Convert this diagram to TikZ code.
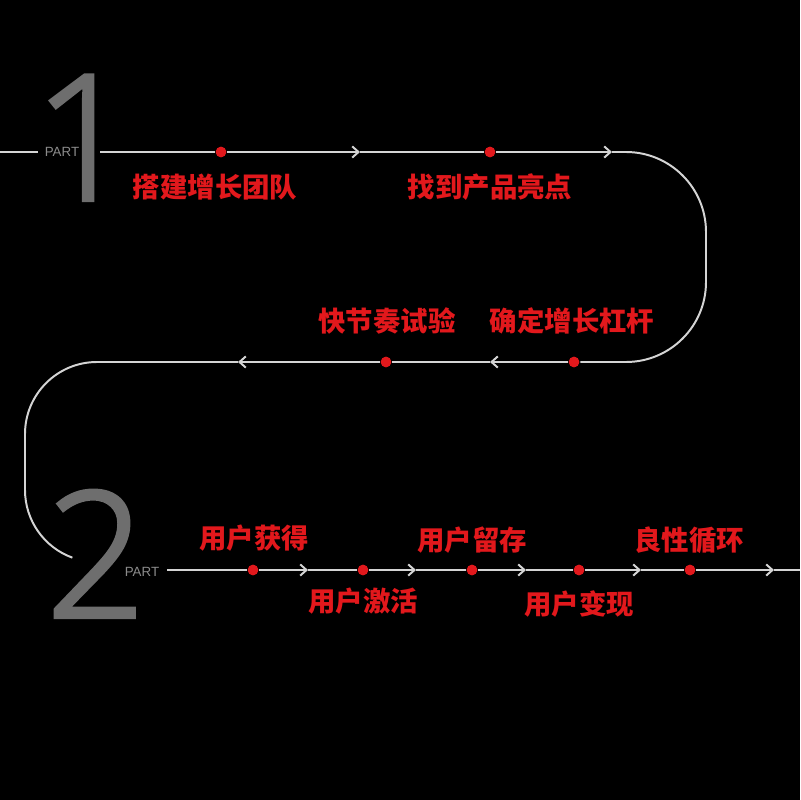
\documentclass[tikz,border=0pt]{standalone}
\usepackage{fontspec}
\setmainfont{Liberation Sans}
\newfontfamily\cjk{Noto Sans CJK SC}
\newfontfamily\digitfont{Open Sans Light}[AutoFakeBold=2.5]
\usetikzlibrary{arrows.meta, positioning}
\definecolor{cred}{HTML}{E2181C}
\definecolor{cline}{HTML}{D4D4D4}
\definecolor{cgrey}{HTML}{6E6E6E}
\tikzset{
  every picture/.style={line width=1.4pt},
  track/.style={draw=cline, line width=1.4pt},
  flow/.style={track, -{Straight Barb[length=4.5pt, width=8pt]}},
  dot/.style={circle, fill=cred, inner sep=0pt, minimum size=7.5pt},
  tag/.style={font=\cjk\bfseries\fontsize{19.5}{20}\selectfont, text=cred, inner sep=0pt},
  digit/.style={font=\digitfont\bfseries\fontsize{124}{124}\selectfont, text=cgrey, inner sep=0pt, anchor=base},
  part/.style={font=\fontsize{9.5}{10}\selectfont, text=cgrey!80!white, inner sep=0pt},
}

\begin{document}
\begin{tikzpicture}[x=0.025cm, y=-0.025cm]
  \fill[black] (0,0) rectangle (800,800);
  \useasboundingbox (0,0) rectangle (800,800);
  % part 1
  \node[digit] (one) at (84,200) {1};
  \node[part] (p1) at (62,152) {PART};
  \coordinate (s0) at (0,152);
  \coordinate (e0) at (38,152);
  \coordinate (s1) at (100,152);
  \node[dot] (d1) at (221,152) {};
  \coordinate (a1) at (360,152);
  \node[dot] (d2) at (490,152) {};
  \coordinate (a2) at (612,152);
  \coordinate (r1) at (706,152);
  \coordinate (r2) at (706,362);
  \node[dot] (d3) at (574,362) {};
  \coordinate (a3) at (490,362);
  \node[dot] (d4) at (386,362) {};
  \coordinate (a4) at (238,362);
  \coordinate (l1) at (97,362);
  \coordinate (l2) at (25,490);
  \node[tag] (t1) at (215,187) {搭建增长团队};
  \node[tag] (t2) at (490,187) {找到产品亮点};
  \node[tag] (t3) at (572,321) {确定增长杠杆};
  \node[tag] (t4) at (387,321) {快节奏试验};
  % part 2
  \node[digit] (two) at (96,617) {2};
  \node[part] (p2) at (142,572) {PART};
  \coordinate (s2) at (167,570);
  \node[dot] (d5) at (253,570) {};
  \coordinate (a5) at (308,570);
  \node[dot] (d6) at (363,570) {};
  \coordinate (a6) at (416,570);
  \node[dot] (d7) at (472,570) {};
  \coordinate (a7) at (526,570);
  \node[dot] (d8) at (579,570) {};
  \coordinate (a8) at (641,570);
  \node[dot] (d9) at (690,570) {};
  \coordinate (a9) at (774,570);
  \coordinate (e2) at (800,570);
  \node[tag] (t5) at (254,538) {用户获得};
  \node[tag] (t6) at (363,601) {用户激活};
  \node[tag] (t7) at (472,540) {用户留存};
  \node[tag] (t8) at (579,604) {用户变现};
  \node[tag] (t9) at (689,540) {良性循环};
  % the road
  \draw[track] (s0) -- (e0);
  \draw[track] (s1) -- (d1);
  \draw[flow] (d1) -- (a1);
  \draw[track] (a1) -- (d2);
  \draw[flow] (d2) -- (a2);
  \draw[track, rounded corners=56.9pt] (a2) -- (r1) -- (r2) -- (d3);
  \draw[flow] (d3) -- (a3);
  \draw[track] (a3) -- (d4);
  \draw[flow] (d4) -- (a4);
  \draw[track] (a4) -- (l1) arc[start angle=270, end angle=180, radius=72] -- (l2)
    arc[start angle=180, end angle=110, radius=72];
  \draw[track] (s2) -- (d5);
  \draw[flow] (d5) -- (a5);
  \draw[track] (a5) -- (d6);
  \draw[flow] (d6) -- (a6);
  \draw[track] (a6) -- (d7);
  \draw[flow] (d7) -- (a7);
  \draw[track] (a7) -- (d8);
  \draw[flow] (d8) -- (a8);
  \draw[track] (a8) -- (d9);
  \draw[flow] (d9) -- (a9);
  \draw[track] (a9) -- (e2);
  \foreach \d in {d1,d2,d3,d4,d5,d6,d7,d8,d9} \node[dot] at (\d) {};
\end{tikzpicture}
\end{document}
